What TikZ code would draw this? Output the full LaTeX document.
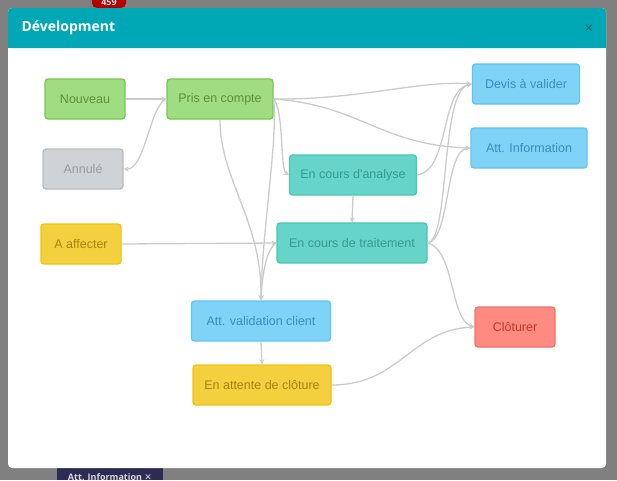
\documentclass[tikz,border=0pt]{standalone}
\usepackage{fontspec}
\setmainfont{Open Sans}
\newfontfamily\djv{DejaVu Sans}
\newfontfamily\lib{Liberation Sans}
\usetikzlibrary{arrows.meta}
\definecolor{gfill}{HTML}{A0DC82}\definecolor{gdraw}{HTML}{76C94F}\definecolor{gtext}{HTML}{5E8F3C}
\definecolor{afill}{HTML}{D0D3D6}\definecolor{adraw}{HTML}{BABDC0}\definecolor{atext}{HTML}{9A9DA0}
\definecolor{yfill}{HTML}{F4D03F}\definecolor{ydraw}{HTML}{F1C40F}\definecolor{ytext}{HTML}{A48312}
\definecolor{tfill}{HTML}{66D4C8}\definecolor{tdraw}{HTML}{48C9B0}\definecolor{ttext}{HTML}{3A9A8E}
\definecolor{bfill}{HTML}{7FD3F7}\definecolor{bdraw}{HTML}{5BC8F5}\definecolor{btext}{HTML}{3B8DBD}
\definecolor{rfill}{HTML}{FF8A80}\definecolor{rdraw}{HTML}{F0726A}\definecolor{rtext}{HTML}{C0392B}
\definecolor{hdr}{HTML}{00A8B5}\definecolor{edge}{HTML}{CCCCCC}\definecolor{tabc}{HTML}{2D2A55}
\tikzset{
 st/.style={rounded corners=3pt,line width=1.3pt,minimum height=40pt,font=\lib\fontsize{12.5}{14}\selectfont,inner sep=2pt},
 gst/.style={st,fill=gfill,draw=gdraw,text=gtext},
 ast/.style={st,fill=afill,draw=adraw,text=atext},
 yst/.style={st,fill=yfill,draw=ydraw,text=ytext},
 tst/.style={st,fill=tfill,draw=tdraw,text=ttext},
 bst/.style={st,fill=bfill,draw=bdraw,text=btext},
 rst/.style={st,fill=rfill,draw=rdraw,text=rtext},
 ed/.style={draw=edge,line width=1.3pt,-{Stealth[length=5pt,width=5pt]}},
}
\begin{document}
\begin{tikzpicture}[x=1pt,y=-1pt]
\useasboundingbox (0,0) rectangle (617,480);
\fill[black!50] (0,0) rectangle (617,480);
\fill[red!70!black,rounded corners=5pt] (92,-6) rectangle (126,8);
\node[text=white!80!gray,font=\fontsize{9}{9}\selectfont\bfseries] (badge) at (109,2) {459};
\fill[tabc] (57,468) rectangle (163,480);
\node[text=white!70!gray,font=\fontsize{9}{9}\selectfont\bfseries,anchor=north] (tab) at (110,470) {Att. Information {\djv ✕}};
\fill[white,rounded corners=4pt] (8,8) rectangle (606,468);
\fill[hdr,rounded corners=4pt] (8,8) rectangle (606,48);
\fill[hdr] (8,30) rectangle (606,48);
\node[anchor=west,text=white,font=\fontsize{14}{16}\selectfont\bfseries] (title) at (18,28) {Dévelopment};
\node[text=black!40!hdr,font=\fontsize{15}{15}\selectfont] (close) at (589,29) {×};

\node[gst,minimum width=80pt] (nv) at (85,99) {Nouveau};
\node[gst,minimum width=106pt] (pc) at (220,99) {Pris en compte};
\node[ast,minimum width=80pt] (an) at (83,169) {Annulé};
\node[yst,minimum width=80pt] (aa) at (81,244) {A affecter};
\node[tst,minimum width=127pt] (ca) at (353,175) {En cours d'analyse};
\node[tst,minimum width=150pt] (ct) at (352,243) {En cours de traitement};
\node[bst,minimum width=107pt] (dv) at (526,84) {Devis à valider};
\node[bst,minimum width=116pt] (ai) at (529,148) {Att. Information};
\node[bst,minimum width=139pt] (av) at (261,321) {Att. validation client};
\node[yst,minimum width=138pt] (ea) at (262,385) {En attente de clôture};
\node[rst,minimum width=80pt] (cl) at (515,327) {Clôturer};

\draw[ed] (nv.east) -- (pc.west);
\draw[ed] (pc.west) .. controls (150,105) and (145,170) .. (an.east);
\draw[ed] (pc.east) .. controls (360,100) and (420,80) .. (dv.west);
\draw[ed] (pc.east) .. controls (360,105) and (380,145) .. (ai.west);
\draw[ed] (pc.east) .. controls (284,110) and (280,170) .. (ca.west);
\draw[ed] (pc.east) .. controls (278,140) and (262,230) .. (av.north);
\draw[ed] (pc.south) .. controls (220,180) and (262,220) .. (av.north);
\draw[ed] (ct.west) .. controls (265,250) and (262,280) .. (av.north);
\draw[ed] (ca.east) .. controls (450,170) and (440,90) .. (dv.west);
\draw[ed] (ca.south) -- (ct.north);
\draw[ed] (aa.east) -- (ct.west);
\draw[ed] (ct.east) .. controls (450,240) and (440,90) .. (dv.west);
\draw[ed] (ct.east) .. controls (450,240) and (445,150) .. (ai.west);
\draw[ed] (ct.east) .. controls (455,250) and (450,320) .. (cl.west);
\draw[ed] (av.south) -- (ea.north);
\draw[ed] (ea.east) .. controls (400,385) and (410,330) .. (cl.west);
\end{tikzpicture}
\end{document}
